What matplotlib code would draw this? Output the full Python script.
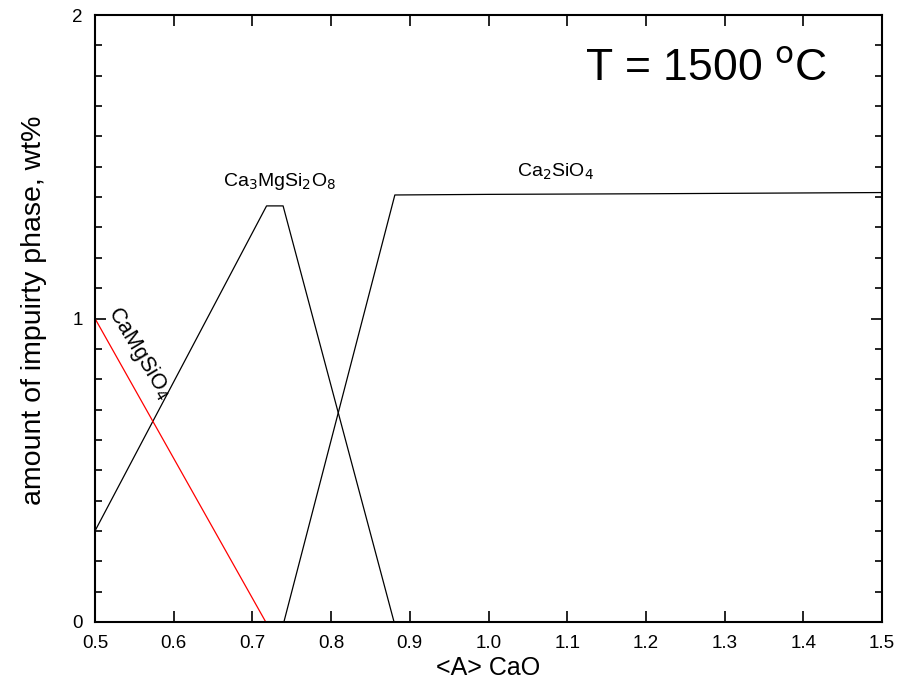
import matplotlib.pyplot as plt
from matplotlib.ticker import MultipleLocator

plt.rcParams["font.family"] = ["Liberation Sans", "DejaVu Sans"]

# ---- data ----
x_camgsio4 = [0.5, 0.717, 1.5]
y_camgsio4 = [1.0, 0.0, 0.0]

x_ca3 = [0.5, 0.718, 0.739, 0.88, 1.5]
y_ca3 = [0.30, 1.371, 1.371, 0.0, 0.0]

x_ca2 = [0.5, 0.740, 0.881, 1.0, 1.2, 1.5]
y_ca2 = [0.0, 0.0, 1.407, 1.409, 1.411, 1.415]

x_ticks = [0.5, 0.6, 0.7, 0.8, 0.9, 1.0, 1.1, 1.2, 1.3, 1.4, 1.5]
y_ticks = [0, 1, 2]

fig = plt.figure(figsize=(9, 6.82), dpi=100)
ax = fig.add_axes([95 / 900, 60 / 682, 787 / 900, 607 / 682])

ax.plot(x_ca3, y_ca3, color="black", lw=0.9)
ax.plot(x_ca2, y_ca2, color="black", lw=0.9)
ax.plot(x_camgsio4, y_camgsio4, color="red", lw=0.9)
ax.plot([0.72, 1.5], [0.0, 0.0], color="#800040", lw=1.4)

ax.set_xlim(0.5, 1.5)
ax.set_ylim(0, 2)
ax.set_xticks(x_ticks)
ax.set_xticklabels([f"{v:.1f}" for v in x_ticks])
ax.set_yticks(y_ticks)
ax.yaxis.set_minor_locator(MultipleLocator(0.1))

ax.tick_params(axis="both", which="both", direction="in", top=True, right=True,
               labelsize=13.5, width=1.2)
ax.tick_params(axis="both", which="major", length=8)
ax.tick_params(axis="x", which="major", pad=9)
ax.tick_params(axis="y", which="major", pad=9)
ax.tick_params(axis="y", which="minor", length=5)
for s in ax.spines.values():
    s.set_linewidth(1.5)

ax.set_xlabel("<A> CaO", fontsize=18, labelpad=3)
ax.set_ylabel("amount of impuirty phase, wt%", fontsize=20.5)
ax.yaxis.set_label_coords(-0.061, 0.514)

ax.text(1.123, 1.82, "T = 1500 $^{\\mathrm{o}}$C", fontsize=32, ha="left", va="center")
ax.text(0.735, 1.45, "Ca$_3$MgSi$_2$O$_8$", fontsize=14, ha="center", va="center")
ax.text(1.085, 1.483, "Ca$_2$SiO$_4$", fontsize=14, ha="center", va="center")
ax.text(0.556, 0.885, "CaMgSiO$_4$", fontsize=15.5, ha="center", va="center",
        rotation=-59, rotation_mode="anchor")

fig.savefig("out.png", dpi=100)
